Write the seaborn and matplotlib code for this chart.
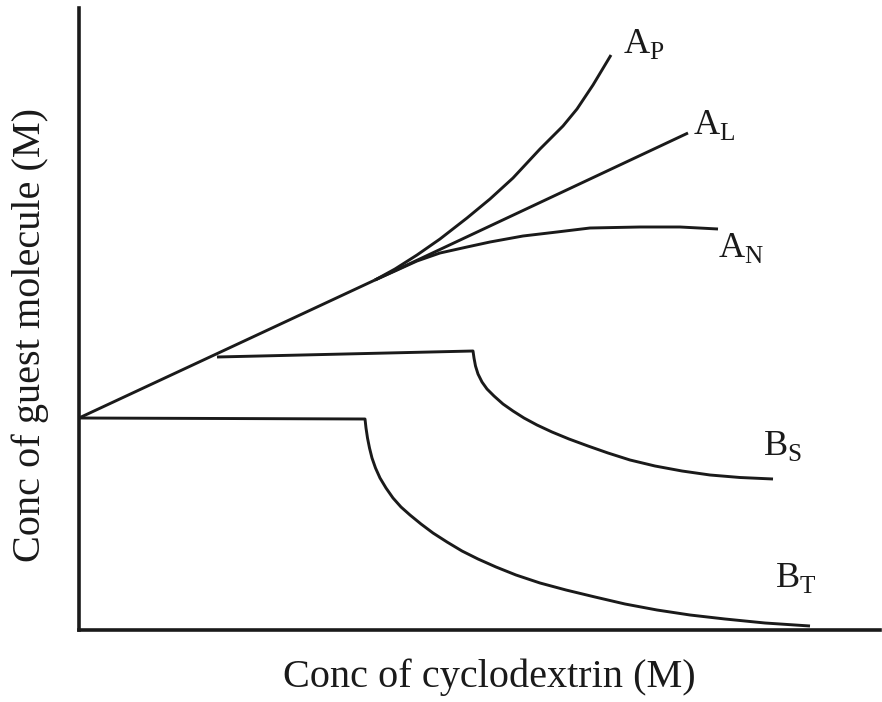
import matplotlib
matplotlib.use("Agg")
import matplotlib.pyplot as plt
import seaborn as sns
import pandas as pd

sns.set_theme(style="white")
plt.rcParams['font.family'] = ['Liberation Serif', 'DejaVu Serif']
plt.rcParams['mathtext.fontset'] = 'custom'
plt.rcParams['mathtext.rm'] = 'Liberation Serif'

# Schematic phase-solubility curves (arbitrary units)
common_x = [0, 296]
common_y = [212, 350]

AL_x = [296, 609]
AL_y = [350, 497]

AP_x = [296, 316, 338, 361, 388, 411, 434, 461, 484, 498, 514, 532]
AP_y = [350, 361, 375, 391, 412, 431, 452, 481, 504, 521, 545, 575]

AN_x = [296, 316, 338, 361, 388, 411, 444, 478, 511, 561, 601, 639]
AN_y = [350, 359, 369, 377, 383, 388, 394, 398, 402, 403, 403, 401]

BS_x = [138, 394, 395, 396.5, 399, 403, 408, 415, 424, 434, 445, 458, 473, 490,
        509, 529, 551, 576, 603, 631, 661, 694]
BS_y = [273, 279, 272, 264, 256, 248, 241, 234, 226, 219, 212, 205, 198, 191,
        184, 177, 170, 164, 159, 155, 152.5, 151]

BT_x = [0, 286, 287, 288.5, 290.5, 293, 296.5, 301, 307, 314, 322, 331, 342, 354,
        368, 383, 399, 417, 437, 461, 487, 516, 546, 578, 611, 646, 686, 731]
BT_y = [212, 211, 202, 192, 182, 172, 162, 152, 142, 132, 123, 115, 106, 97,
        88, 79, 71, 63, 55, 47, 40, 33, 26, 20, 15, 11, 7, 4]

labels = ['A', 'A', 'A', 'B', 'B']
subs = ['P', 'L', 'N', 'S', 'T']
label_x = [544, 614, 639, 684, 696]
label_y = [577, 496, 373, 175, 43]

fig = plt.figure(figsize=(8.82, 7.02), dpi=100)
ax = fig.add_axes([79/882, 1 - 630/702, 801/882, 622/702])

lw = 2.1
for xs, ys in [(common_x, common_y), (AL_x, AL_y), (AP_x, AP_y),
               (AN_x, AN_y), (BS_x, BS_y), (BT_x, BT_y)]:
    df = pd.DataFrame({'x': xs, 'y': ys})
    sns.lineplot(data=df, x='x', y='y', sort=False, color='#1a1a1a',
                 linewidth=lw, ax=ax, estimator=None,
                 solid_joinstyle='round', solid_capstyle='butt')

for t, s, x, y in zip(labels, subs, label_x, label_y):
    ax.text(x, y, r'$\mathrm{%s}_{\mathrm{%s}}$' % (t, s), fontsize=26,
            ha='left', va='baseline', color='#1a1a1a')

ax.set_xlim(0, 801)
ax.set_ylim(0, 622)
ax.set_xticks([])
ax.set_yticks([])
for side in ['top', 'right']:
    ax.spines[side].set_visible(False)
for side in ['left', 'bottom']:
    ax.spines[side].set_linewidth(2.6)
    ax.spines[side].set_color('#1a1a1a')

ax.set_xlabel('Conc of cyclodextrin (M)', fontsize=29, color='#1a1a1a', va='center')
ax.xaxis.set_label_coords((489 - 79) / 801, (630 - 677) / 622)
ax.set_ylabel('Conc of guest molecule (M)', fontsize=29, color='#1a1a1a', va='center')
ax.yaxis.set_label_coords((30 - 79) / 801, (630 - 335) / 622)

fig.savefig('out.png', dpi=100)
